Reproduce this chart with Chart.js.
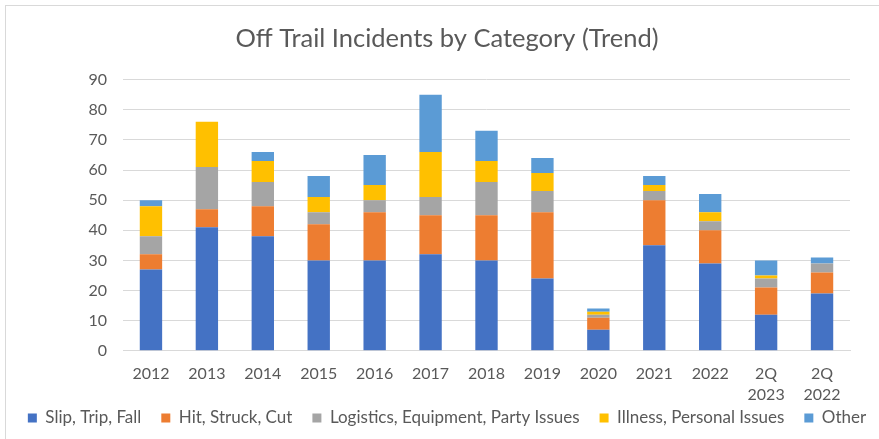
<!DOCTYPE html>
<html>
<head>
<meta charset="utf-8">
<script src="https://cdn.jsdelivr.net/npm/chart.js@4"></script>
<style>
  html, body { margin: 0; padding: 0; background: #fff; overflow: hidden; }
  #wrap { position: absolute; left: 5px; top: 5px; width: 882px; height: 460px; border: 1px solid #d9d9d9; }
  canvas { display: block; }
</style>
</head>
<body>
<div id="wrap"><canvas id="c" width="882" height="459"></canvas></div>
<script>
const categories = ['2012','2013','2014','2015','2016','2017','2018','2019','2020','2021','2022',['2Q','2023'],['2Q','2022']];
const slipTripFall   = [27, 41, 38, 30, 30, 32, 30, 24, 7, 35, 29, 12, 19];
const hitStruckCut   = [5, 6, 10, 12, 16, 13, 15, 22, 4, 15, 11, 9, 7];
const logistics      = [6, 14, 8, 4, 4, 6, 11, 7, 1, 3, 3, 3, 3];
const illness        = [10, 15, 7, 5, 5, 15, 7, 6, 1, 2, 3, 1, 0];
const other          = [2, 0, 3, 7, 10, 19, 10, 5, 1, 3, 6, 5, 2];
const yTicks = { min: 0, max: 90, step: 10 };

const textColor = '#595959';
const fontFamily = 'Lato, "Open Sans", sans-serif';

const mk = (label, data, color) => ({
  label, data, backgroundColor: color, borderWidth: 0,
  categoryPercentage: 1.0, barPercentage: 0.4
});

// pull the legend up closer to the axis labels (layout tweak only)
const legendLift = {
  id: 'legendLift',
  afterLayout(chart) {
    const l = chart.legend;
    if (!l) return;
    const d = 28.5;
    l.top -= d; l.bottom -= d;
  }
};

new Chart(document.getElementById('c'), {
  type: 'bar',
  data: {
    labels: categories,
    datasets: [
      mk('Slip, Trip, Fall', slipTripFall, '#4472C4'),
      mk('Hit, Struck, Cut', hitStruckCut, '#ED7D31'),
      mk('Logistics, Equipment, Party Issues', logistics, '#A5A5A5'),
      mk('Illness, Personal Issues', illness, '#FFC000'),
      mk('Other', other, '#5B9BD5')
    ]
  },
  plugins: [legendLift],
  options: {
    responsive: false,
    animation: false,
    layout: { padding: 0 },
    plugins: {
      title: {
        display: true,
        text: 'Off Trail Incidents by Category (Trend)',
        color: textColor,
        font: { family: fontFamily, size: 25.5, weight: 'normal' },
        padding: { top: 17, bottom: 26 }
      },
      legend: {
        position: 'bottom',
        labels: {
          color: textColor,
          font: { family: fontFamily, size: 17 },
          boxWidth: 9, boxHeight: 9,
          padding: 20
        }
      },
      tooltip: { enabled: false }
    },
    scales: {
      x: {
        stacked: true,
        grid: { display: false, drawTicks: false },
        border: { display: true, color: '#d9d9d9', width: 1 },
        ticks: { color: textColor, font: { family: fontFamily, size: 16, lineHeight: 1.35 }, padding: 12, maxRotation: 0, autoSkip: false }
      },
      y: {
        stacked: true,
        min: yTicks.min, max: yTicks.max,
        afterFit: s => { s.width = 117; },
        grid: { color: '#d9d9d9', lineWidth: 1, drawTicks: false },
        border: { display: false },
        ticks: { stepSize: yTicks.step, color: textColor, font: { family: fontFamily, size: 16 }, padding: 16 }
      },
      yRight: {
        type: 'linear',
        position: 'right',
        display: true,
        afterFit: s => { s.width = 38; },
        grid: { display: false, drawTicks: false },
        border: { display: false },
        ticks: { display: false }
      }
    }
  }
});
</script>
</body>
</html>
